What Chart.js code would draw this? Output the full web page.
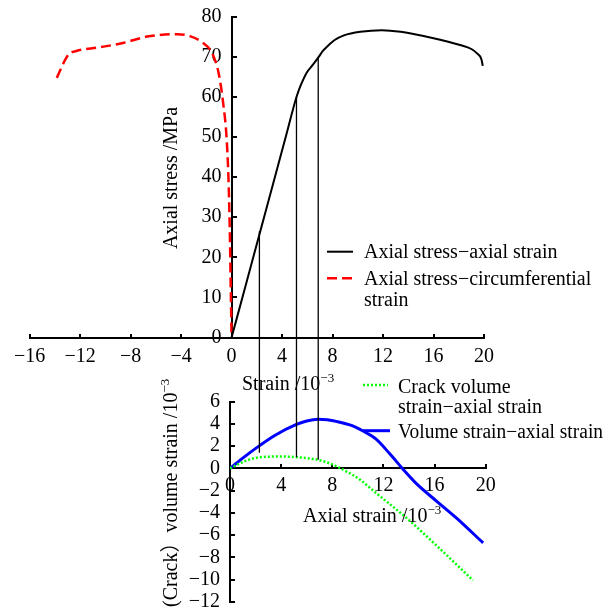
<!DOCTYPE html>
<html>
<head>
<meta charset="utf-8">
<script src="https://cdn.jsdelivr.net/npm/chart.js@4/dist/chart.umd.min.js"></script>
<style>
  html, body { margin: 0; padding: 0; background: #fff; }
  #wrap { position: relative; width: 605px; height: 615px; }
  #wrap canvas { position: absolute; left: 0; top: 0; }
</style>
</head>
<body>
<div id="wrap">
  <canvas id="stressPlot" width="605" height="615"></canvas>
  <canvas id="volumePlot" width="605" height="615"></canvas>
</div>
<script>
// Axial stress (MPa) against axial strain (10^-3)
const axialStrain = [0, 1.1, 2.25, 3.35, 4.3, 5.15, 5.5, 5.95, 6.45, 6.88, 7.2, 7.6, 8.2, 8.9, 10.2, 11.9, 13.4, 16.0, 18.1, 19.0, 19.45, 19.8, 19.9];
const axialStress = [0, 12.8, 26.2, 39, 50.1, 60, 63, 66, 68, 69.8, 71.3, 72.6, 74.2, 75.3, 76.2, 76.6, 76.2, 74.6, 72.9, 71.9, 70.8, 69.3, 67.7];

// Axial stress (MPa) against circumferential strain (10^-3)
const circStrain = [-13.85, -13.3, -12.9, -12.3, -10.5, -8.6, -6.7, -5.3, -4.3, -3.3, -2.3, -1.5, -1.0, -0.65, -0.4, -0.25, -0.15, -0.08, 0];
const circStress = [64.7, 68.5, 70.6, 71.4, 72.3, 73.4, 75.0, 75.5, 75.6, 75.1, 73.5, 70.6, 65.5, 58, 50, 40, 28, 15, 0];

// Volume strain (10^-3) against axial strain (10^-3)
const volAxialStrain = [0, 1.2, 2.34, 3.5, 5.2, 6.0, 6.9, 7.6, 8.2, 9.5, 10.4, 11.45, 12.5, 13.55, 14.6, 16.15, 17.7, 19.8];
const volStrain = [0, 1.1, 2.06, 2.95, 3.94, 4.25, 4.4, 4.37, 4.24, 3.85, 3.35, 2.6, 1.3, -0.1, -1.4, -2.94, -4.45, -6.7];

// Crack volume strain (10^-3) against axial strain (10^-3)
const crackAxialStrain = [0, 1.17, 2.34, 4.0, 5.2, 6.9, 8.2, 9.6, 10.15, 11.46, 13.8, 16.4, 19.0];
const crackVolStrain = [0, 0.64, 1.0, 1.06, 1.0, 0.76, 0.25, -0.6, -1.0, -2.25, -4.45, -7.2, -10.05];

// Characteristic points joining the stress curve to the crack volume curve
const markStrain = [2.3, 5.2, 6.9];
const markStress = [26.5, 60, 70];
const markCrack = [1.4, 1.0, 0.76];

// Tick values
const stressXTicks = [-16, -12, -8, -4, 0, 4, 8, 12, 16, 20];
const stressYTicks = [0, 10, 20, 30, 40, 50, 60, 70, 80];
const volXTicks = [0, 4, 8, 12, 16, 20];
const volYTicks = [-12, -10, -8, -6, -4, -2, 0, 2, 4, 6];

const SERIF = "'Liberation Serif', 'Times New Roman', 'Noto Sans CJK SC', serif";
const FS = 20;

const xy = (xs, ys) => xs.map((x, i) => ({ x, y: ys[i] }));
const fmt = v => (v < 0 ? '\u2212' + Math.abs(v) : String(v));

Chart.defaults.font.family = SERIF;
Chart.defaults.font.size = FS;
Chart.defaults.color = '#000';

// Draws a run of text pieces (text, size, rise) one after another
function richText(ctx, x, y, parts, align, maxWidth) {
  let w = 0;
  parts.forEach(p => { ctx.font = p[1] + 'px ' + SERIF; w += ctx.measureText(p[0]).width; });
  const squeeze = maxWidth && w > maxWidth ? maxWidth / w : 1;
  let cx = align === 'center' ? x - (w * squeeze) / 2 : x;
  ctx.textAlign = 'left';
  ctx.textBaseline = 'alphabetic';
  parts.forEach(p => {
    ctx.font = p[1] + 'px ' + SERIF;
    const pw = ctx.measureText(p[0]).width * squeeze;
    ctx.fillText(p[0], cx, y - (p[2] || 0), pw);
    cx += pw;
  });
}

function legendLine(ctx, x1, x2, y, color, width, dash) {
  ctx.save();
  ctx.strokeStyle = color;
  ctx.lineWidth = width;
  ctx.setLineDash(dash || []);
  ctx.beginPath();
  ctx.moveTo(x1, y);
  ctx.lineTo(x2, y);
  ctx.stroke();
  ctx.restore();
}

// Axes crossing at the origin, tick marks pointing inward
function centerAxes(xTicks, yTicks, xMin, xMax, yMin, yMax, xPad) {
  return {
    x: {
      type: 'linear', min: xMin, max: xMax, position: { y: 0 },
      afterBuildTicks: s => { s.ticks = xTicks.map(v => ({ value: v })); },
      ticks: { callback: fmt, padding: xPad, maxRotation: 0, autoSkip: false, color: '#000', font: { size: FS, lineHeight: 1 } },
      grid: { drawOnChartArea: false, color: '#000', lineWidth: 2, tickLength: -5 },
      border: { color: '#000', width: 2 }
    },
    y: {
      type: 'linear', min: yMin, max: yMax, position: { x: 0 },
      afterBuildTicks: s => { s.ticks = yTicks.map(v => ({ value: v })); },
      ticks: { callback: v => fmt(v) + '  ', autoSkip: false, color: '#000', font: { size: FS, lineHeight: 1 } },
      grid: { drawOnChartArea: false, color: '#000', lineWidth: 2, tickLength: -6 },
      border: { color: '#000', width: 2 }
    }
  };
}

const stressDecor = {
  id: 'stressDecor',
  afterDraw(chart) {
    const ctx = chart.ctx;
    ctx.save();
    ctx.fillStyle = '#000';
    // y axis title
    ctx.save();
    ctx.translate(177, 178);
    ctx.rotate(-Math.PI / 2);
    richText(ctx, 0, 0, [['Axial stress /MPa', FS]], 'center');
    ctx.restore();
    // x axis title
    richText(ctx, 242, 390, [['Strain /10', FS], ['\u22123', 13, 8]]);
    // legend
    legendLine(ctx, 327, 353, 251.7, '#000', 2);
    richText(ctx, 364, 258, [['Axial stress\u2212axial strain', FS]]);
    legendLine(ctx, 327, 353, 278.3, '#ff0000', 2.5, [10, 5]);
    richText(ctx, 364, 285, [['Axial stress\u2212circumferential', FS]]);
    richText(ctx, 364, 306, [['strain', FS]]);
    ctx.restore();
  }
};

const stressChart = new Chart(document.getElementById('stressPlot'), {
  type: 'line',
  data: {
    datasets: [
      { label: 'Axial stress\u2212axial strain', data: xy(axialStrain, axialStress),
        borderColor: '#000', borderWidth: 2, cubicInterpolationMode: 'monotone' },
      { label: 'Axial stress\u2212circumferential strain', data: xy(circStrain, circStress),
        borderColor: '#ff0000', borderWidth: 2.5, borderDash: [10, 5], cubicInterpolationMode: 'monotone' }
    ]
  },
  options: {
    responsive: false, animation: false, devicePixelRatio: 1,
    layout: { padding: { left: 29.5, right: 121, top: 16.5, bottom: 277.5 } },
    elements: { point: { radius: 0 } },
    plugins: { legend: { display: false }, tooltip: { enabled: false } },
    scales: centerAxes(stressXTicks, stressYTicks, -16, 20, 0, 80, 14)
  },
  plugins: [stressDecor]
});

const volumeDecor = {
  id: 'volumeDecor',
  afterDatasetsDraw(chart) {
    // vertical links from the stress curve down to the crack volume curve
    const ctx = chart.ctx;
    const xs = chart.scales.x, ys = chart.scales.y, ts = stressChart.scales.y;
    ctx.save();
    ctx.strokeStyle = '#000';
    ctx.lineWidth = 1.3;
    ctx.beginPath();
    markStrain.forEach((s, i) => {
      const px = xs.getPixelForValue(s);
      ctx.moveTo(px, ts.getPixelForValue(markStress[i]));
      ctx.lineTo(px, ys.getPixelForValue(markCrack[i]));
    });
    ctx.stroke();
    ctx.restore();
  },
  afterDraw(chart) {
    const ctx = chart.ctx;
    ctx.save();
    ctx.fillStyle = '#000';
    // y axis title, read bottom to top
    ctx.save();
    ctx.translate(176.5, 607);
    ctx.rotate(-Math.PI / 2);
    richText(ctx, 0, 0, [['(Crack\uFF09volume strain /10', FS], ['\u22123', 13, 8]]);
    ctx.restore();
    // x axis title
    richText(ctx, 303, 522, [['Axial strain /10', FS], ['\u22123', 13, 8]]);
    // legend
    legendLine(ctx, 363, 388, 385, '#00ff00', 2.5, [2, 2]);
    richText(ctx, 398, 392.7, [['Crack volume', FS]]);
    richText(ctx, 398, 413.3, [['strain\u2212axial strain', FS]]);
    legendLine(ctx, 363, 390, 430.7, '#0000ff', 3);
    richText(ctx, 398, 438.3, [['Volume strain\u2212axial strain', FS]], 'left', 205);
    ctx.restore();
  }
};

const volumeChart = new Chart(document.getElementById('volumePlot'), {
  type: 'line',
  data: {
    datasets: [
      { label: 'Crack volume strain\u2212axial strain', data: xy(crackAxialStrain, crackVolStrain),
        borderColor: '#00ff00', borderWidth: 2.5, borderDash: [2, 2], cubicInterpolationMode: 'monotone' },
      { label: 'Volume strain\u2212axial strain', data: xy(volAxialStrain, volStrain),
        borderColor: '#0000ff', borderWidth: 3, cubicInterpolationMode: 'monotone' }
    ]
  },
  options: {
    responsive: false, animation: false, devicePixelRatio: 1,
    layout: { padding: { left: 230, right: 119.3, top: 401.5, bottom: 12.5 } },
    elements: { point: { radius: 0 } },
    plugins: { legend: { display: false }, tooltip: { enabled: false } },
    scales: centerAxes(volXTicks, volYTicks, 0, 20, -12, 6, 12.5)
  },
  plugins: [volumeDecor]
});
</script>
</body>
</html>
